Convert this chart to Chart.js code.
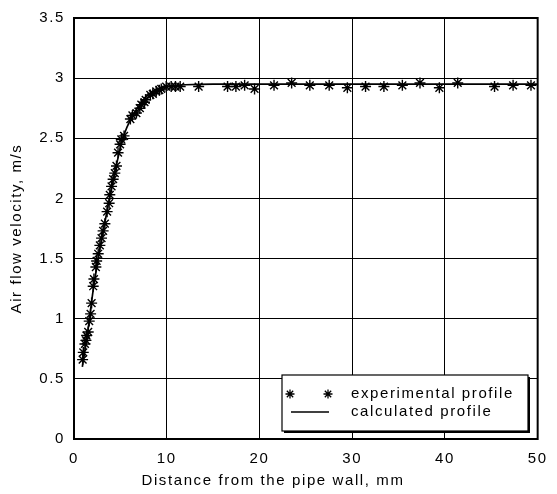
<!DOCTYPE html>
<html>
<head>
<meta charset="utf-8">
<script src="https://cdn.jsdelivr.net/npm/chart.js@4"></script>
<style>
  html, body { margin: 0; padding: 0; background: #fff; }
  #wrap { width: 557px; height: 494px; position: relative; }
</style>
</head>
<body>
<div id="wrap"><canvas id="c" width="557" height="494"></canvas></div>
<script>
// Experimental profile (distance mm, velocity m/s)
const expX = [0.93, 1.0, 1.18, 1.29, 1.36, 1.53, 1.64, 1.79, 1.90, 2.07, 2.15, 2.36, 2.44, 2.61, 2.79, 2.97, 3.14, 3.33, 3.57, 3.79, 3.86, 4.05, 4.22, 4.40, 4.58, 4.75, 4.97, 5.1, 5.4, 6.08, 6.3, 6.73, 7.1, 7.26, 7.6, 7.73, 8.23, 8.5, 8.87, 9.2, 9.41, 9.94, 10.48, 10.94, 11.45, 13.44, 16.56, 17.46, 18.4, 19.47, 21.57, 23.47, 25.43, 27.52, 29.48, 31.44, 33.42, 35.41, 37.31, 39.40, 41.38, 45.35, 47.35, 49.28];
const expY = [0.66, 0.72, 0.79, 0.82, 0.86, 0.89, 0.98, 1.04, 1.13, 1.27, 1.33, 1.43, 1.48, 1.54, 1.61, 1.67, 1.73, 1.79, 1.89, 1.96, 2.03, 2.10, 2.16, 2.21, 2.27, 2.38, 2.45, 2.49, 2.52, 2.66, 2.69, 2.71, 2.75, 2.78, 2.80, 2.82, 2.86, 2.87, 2.89, 2.90, 2.91, 2.93, 2.93, 2.93, 2.93, 2.93, 2.93, 2.93, 2.94, 2.91, 2.94, 2.96, 2.94, 2.94, 2.92, 2.93, 2.93, 2.94, 2.96, 2.92, 2.96, 2.93, 2.94, 2.94];
// Calculated profile
const calcX = [0.9, 1.5, 2, 2.5, 3, 3.5, 4, 4.5, 5, 5.5, 6, 6.5, 7, 7.5, 8, 8.5, 9, 10, 11, 12, 15, 20, 30, 40, 50];
const calcY = [0.6, 0.9, 1.2, 1.45, 1.67, 1.87, 2.07, 2.25, 2.42, 2.55, 2.64, 2.71, 2.77, 2.82, 2.86, 2.89, 2.91, 2.93, 2.94, 2.945, 2.95, 2.95, 2.95, 2.95, 2.95];
const xTicks = [0, 10, 20, 30, 40, 50];
const yTicks = [0, 0.5, 1, 1.5, 2, 2.5, 3, 3.5];
const legendLabels = ['experimental profile', 'calculated profile'];
const xTitle = 'Distance from the pipe wall, mm';
const yTitle = 'Air flow velocity, m/s';

const FONT = 'Liberation Sans, Arial, Helvetica, sans-serif';
const FSIZE = 15;
const SPACING = '1.6px';

const expData = expX.map((x, i) => ({ x, y: expY[i] }));
const calcData = calcX.map((x, i) => ({ x, y: calcY[i] }));

const framePlugin = {
  id: 'frame',
  beforeDraw(chart) {
    chart.ctx.letterSpacing = SPACING;
  },
  afterDraw(chart) {
    const { ctx, chartArea: a } = chart;
    ctx.save();
    ctx.letterSpacing = SPACING;
    ctx.strokeStyle = '#000';
    ctx.lineWidth = 2;
    ctx.strokeRect(a.left, a.top, a.right - a.left, a.bottom - a.top);
    // x axis title
    ctx.fillStyle = '#000';
    ctx.font = FSIZE + 'px ' + FONT;
    ctx.textBaseline = 'middle';
    ctx.textAlign = 'center';
    ctx.fillText(xTitle, 273, 481);
    // legend box
    const bx = 282, by = 375, bw = 246, bh = 56;
    ctx.fillStyle = '#000';
    ctx.fillRect(bx + 2, by + 2, bw, bh);
    ctx.fillStyle = '#fff';
    ctx.fillRect(bx, by, bw, bh);
    ctx.lineWidth = 1.2;
    ctx.strokeRect(bx, by, bw, bh);
    ctx.fillStyle = '#000';
    ctx.textAlign = 'left';
    ctx.fillText(legendLabels[0], 351, 394);
    ctx.fillText(legendLabels[1], 351, 412);
    // star markers
    const star = (cx, cy, r) => {
      ctx.beginPath();
      for (let k = 0; k < 4; k++) {
        const ang = k * Math.PI / 4;
        ctx.moveTo(cx - r * Math.cos(ang), cy - r * Math.sin(ang));
        ctx.lineTo(cx + r * Math.cos(ang), cy + r * Math.sin(ang));
      }
      ctx.lineWidth = 1.3;
      ctx.stroke();
    };
    star(290, 394, 4.5);
    star(328, 394, 4.5);
    ctx.beginPath();
    ctx.moveTo(291, 412);
    ctx.lineTo(329, 412);
    ctx.lineWidth = 1.5;
    ctx.stroke();
    ctx.restore();
  }
};

new Chart(document.getElementById('c'), {
  type: 'scatter',
  data: {
    datasets: [
      {
        label: legendLabels[1],
        type: 'line',
        data: calcData,
        borderColor: '#000',
        borderWidth: 1.7,
        pointRadius: 0,
        cubicInterpolationMode: 'monotone',
        fill: false,
        order: 2
      },
      {
        label: legendLabels[0],
        data: expData,
        pointStyle: 'star',
        pointRadius: 5.5,
        borderColor: '#000',
        backgroundColor: '#000',
        pointBorderWidth: 1.4,
        order: 1
      }
    ]
  },
  options: {
    responsive: false,
    animation: false,
    devicePixelRatio: 1,
    layout: { padding: { top: 16, right: 17, left: 0, bottom: 0 } },
    plugins: { legend: { display: false }, tooltip: { enabled: false } },
    scales: {
      x: {
        type: 'linear',
        min: 0, max: 50,
        afterFit(s) { s.height = 55; },
        afterBuildTicks(s) { s.ticks = xTicks.map(v => ({ value: v })); },
        grid: { color: '#000', lineWidth: 1, drawTicks: false },
        border: { display: false },
        ticks: { color: '#000', font: { family: FONT, size: FSIZE }, padding: 11, maxRotation: 0, callback: v => String(v) },
        title: { display: false, text: xTitle }
      },
      y: {
        type: 'linear',
        min: 0, max: 3.5,
        afterFit(s) { s.width = 74; },
        afterBuildTicks(s) { s.ticks = yTicks.map(v => ({ value: v })); },
        grid: { color: '#000', lineWidth: 1, drawTicks: false },
        border: { display: false },
        ticks: { color: '#000', font: { family: FONT, size: FSIZE }, padding: 9, callback: v => String(v) },
        title: { display: true, text: yTitle, color: '#000', font: { family: FONT, size: FSIZE }, padding: { top: 8, bottom: 0 } }
      }
    }
  },
  plugins: [framePlugin]
});
</script>
</body>
</html>
